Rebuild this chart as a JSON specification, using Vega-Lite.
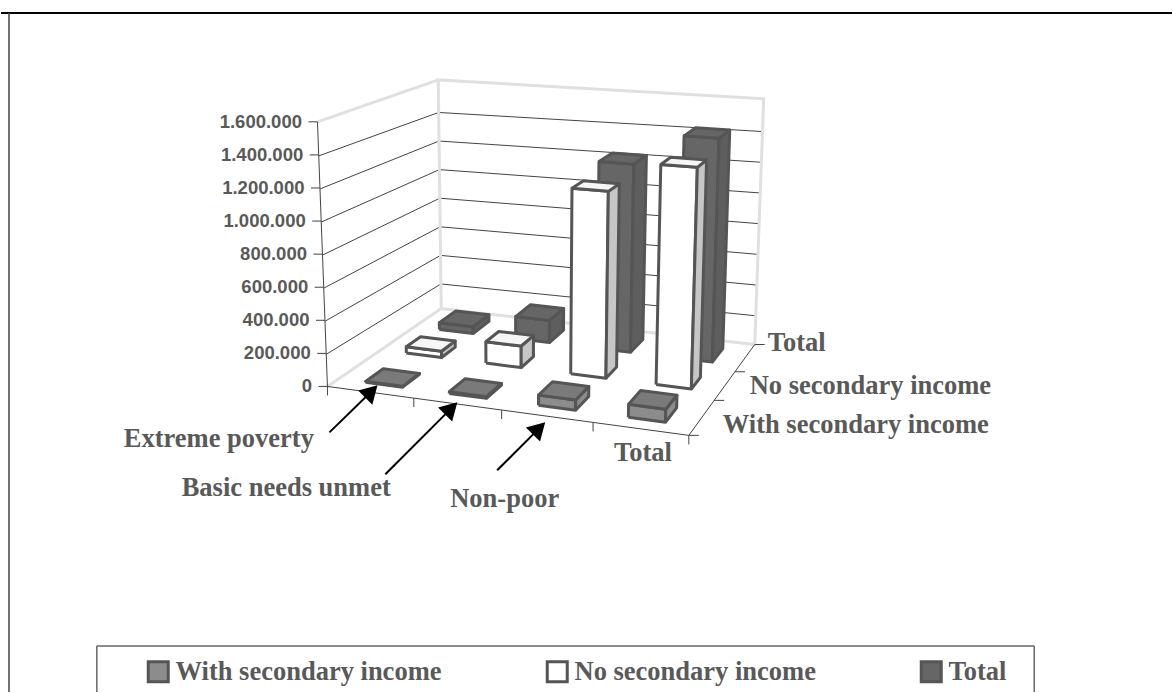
{"$schema":"https://vega.github.io/schema/vega-lite/v6.json","width":1173,"height":693,"padding":0,"autosize":{"type":"fit","contains":"padding"},"background":"white","view":{"stroke":null},
"datasets":{"bars":[
{"category":"Extreme poverty","series":"Total","value":45000},{"category":"Basic needs unmet","series":"Total","value":145000},{"category":"Non-poor","series":"Total","value":1210000},{"category":"Total","series":"Total","value":1415000},
{"category":"Extreme poverty","series":"No secondary income","value":40000},{"category":"Basic needs unmet","series":"No secondary income","value":135000},{"category":"Non-poor","series":"No secondary income","value":1150000},{"category":"Total","series":"No secondary income","value":1340000},
{"category":"Extreme poverty","series":"With secondary income","value":5000},{"category":"Basic needs unmet","series":"With secondary income","value":10000},{"category":"Non-poor","series":"With secondary income","value":60000},{"category":"Total","series":"With secondary income","value":75000}],
"grid":[{"value":0,"label":"0"},{"value":200000,"label":"200.000"},{"value":400000,"label":"400.000"},{"value":600000,"label":"600.000"},{"value":800000,"label":"800.000"},{"value":1000000,"label":"1.000.000"},{"value":1200000,"label":"1.200.000"},{"value":1400000,"label":"1.400.000"},{"value":1600000,"label":"1.600.000"}]},
"layer":[
{"data":{"name":"grid"},"transform":[{"filter":"datum.value>0 && datum.value<1600000"},{"calculate":"[0,0,1]","as":"pa"},{"calculate":"[0,1,1]","as":"pb"},{"calculate":"[0,1,2]","as":"idx"},{"flatten":["pa","pb","idx"]},{"calculate":"datum.value/1600000","as":"t"},
{"calculate":"(1-datum.pb)*((1-datum.pa)*(327-10*datum.t)+datum.pa*(689+8*datum.t))+datum.pb*((1-datum.pa)*(441-3*datum.t)+datum.pa*(755+9*datum.t))","as":"px"},
{"calculate":"(1-datum.pb)*((1-datum.pa)*(388-265*datum.t)+datum.pa*(436-285*datum.t))+datum.pb*((1-datum.pa)*(313-229*datum.t)+datum.pa*(347-246*datum.t))","as":"py"}],
"mark":{"type":"line","stroke":"#444","strokeWidth":1},
"encoding":{"x":{"field":"px","type":"quantitative","scale":{"domain":[0,1173],"nice":false,"zero":false},"axis":null},"y":{"field":"py","type":"quantitative","scale":{"domain":[693,0],"nice":false,"zero":false},"axis":null},"detail":{"field":"value"},"order":{"field":"idx"}}},
{"data":{"values":[{"edge":"wall"}]},"transform":[{"calculate":"[0,0,0,1,1,1,0,0]","as":"pa"},{"calculate":"[0,1,1,1,1,1,1,1]","as":"pb"},{"calculate":"[0,0,1,1,0,0,0,1]","as":"t"},{"calculate":"[0,1,2,3,4,5,6,7]","as":"idx"},{"flatten":["pa","pb","t","idx"]},
{"calculate":"(1-datum.pb)*((1-datum.pa)*(327-10*datum.t)+datum.pa*(689+8*datum.t))+datum.pb*((1-datum.pa)*(441-3*datum.t)+datum.pa*(755+9*datum.t))","as":"px"},
{"calculate":"(1-datum.pb)*((1-datum.pa)*(387-265*datum.t)+datum.pa*(436-285*datum.t))+datum.pb*((1-datum.pa)*(309-229*datum.t)+datum.pa*(345-246*datum.t))","as":"py"}],
"mark":{"type":"line","stroke":"#e0e0e0","strokeWidth":3},
"encoding":{"x":{"field":"px","type":"quantitative"},"y":{"field":"py","type":"quantitative"},"order":{"field":"idx"}}},
{"data":{"values":[{"edge":"ceiling-left"}]},"transform":[{"calculate":"[0,0]","as":"pa"},{"calculate":"[0,1]","as":"pb"},{"calculate":"[1,1]","as":"t"},{"calculate":"[0,1]","as":"idx"},{"flatten":["pa","pb","t","idx"]},
{"calculate":"(1-datum.pb)*((1-datum.pa)*(327-10*datum.t)+datum.pa*(689+8*datum.t))+datum.pb*((1-datum.pa)*(441-3*datum.t)+datum.pa*(755+9*datum.t))","as":"px"},
{"calculate":"(1-datum.pb)*((1-datum.pa)*(387-265*datum.t)+datum.pa*(436-285*datum.t))+datum.pb*((1-datum.pa)*(309-229*datum.t)+datum.pa*(345-246*datum.t))","as":"py"}],
"mark":{"type":"line","stroke":"#e0e0e0","strokeWidth":3},
"encoding":{"x":{"field":"px","type":"quantitative"},"y":{"field":"py","type":"quantitative"},"order":{"field":"idx"}}},
{"data":{"values":[{"edge":"axes"}]},"transform":[{"calculate":"[0,0,1,1]","as":"pa"},{"calculate":"[0,0,0,1]","as":"pb"},{"calculate":"[1,0,0,0]","as":"t"},{"calculate":"[0,1,2,3]","as":"idx"},{"flatten":["pa","pb","t","idx"]},
{"calculate":"(1-datum.pb)*((1-datum.pa)*(327-10*datum.t)+datum.pa*(689+8*datum.t))+datum.pb*((1-datum.pa)*(441-3*datum.t)+datum.pa*(755+9*datum.t))","as":"px"},
{"calculate":"(1-datum.pb)*((1-datum.pa)*(387-265*datum.t)+datum.pa*(436-285*datum.t))+datum.pb*((1-datum.pa)*(309-229*datum.t)+datum.pa*(345-246*datum.t))","as":"py"}],
"mark":{"type":"line","stroke":"#444","strokeWidth":1},
"encoding":{"x":{"field":"px","type":"quantitative"},"y":{"field":"py","type":"quantitative"},"order":{"field":"idx"}}},
{"data":{"name":"grid"},"transform":[{"calculate":"datum.value/1600000","as":"t"},{"calculate":"327-10*datum.t","as":"px"},{"calculate":"387-265*datum.t","as":"py"},{"calculate":"datum.px-9","as":"px2"}],
"mark":{"type":"rule","stroke":"#444","strokeWidth":1},
"encoding":{"x":{"field":"px","type":"quantitative"},"x2":{"field":"px2"},"y":{"field":"py","type":"quantitative"}}},
{"data":{"name":"grid"},"transform":[{"calculate":"datum.value/1600000","as":"t"},{"calculate":"327-10*datum.t-15.5","as":"px"},{"calculate":"387-265*datum.t","as":"py"}],
"mark":{"type":"text","align":"right","baseline":"middle","font":"Liberation Sans","fontWeight":"bold","fontSize":18.5,"fill":"#595959"},
"encoding":{"x":{"field":"px","type":"quantitative"},"y":{"field":"py","type":"quantitative"},"text":{"field":"label"}}},
{"data":{"values":[{"tick":0},{"tick":0.239},{"tick":0.482},{"tick":0.735},{"tick":1}]},"transform":[{"calculate":"327+362*datum.tick","as":"px"},{"calculate":"387+49*datum.tick","as":"py"},{"calculate":"datum.py+9","as":"py2"}],
"mark":{"type":"rule","stroke":"#444","strokeWidth":1},
"encoding":{"x":{"field":"px","type":"quantitative"},"y":{"field":"py","type":"quantitative"},"y2":{"field":"py2"}}},
{"data":{"values":[{"tick":0},{"tick":0.385},{"tick":0.70},{"tick":1}]},"transform":[{"calculate":"689+66*datum.tick","as":"px"},{"calculate":"436-91*datum.tick","as":"py"},{"calculate":"datum.px+10","as":"px2"}],
"mark":{"type":"rule","stroke":"#444","strokeWidth":1},
"encoding":{"x":{"field":"px","type":"quantitative"},"x2":{"field":"px2"},"y":{"field":"py","type":"quantitative"}}},
{"data":{"name":"bars"},"transform":[
{"calculate":"{'Extreme poverty':0.075,'Basic needs unmet':0.31,'Non-poor':0.56,'Total':0.812}[datum.category]","as":"a0"},{"calculate":"datum.a0+0.104","as":"a1"},
{"calculate":"{'With secondary income':0.10,'No secondary income':0.47,'Total':0.77}[datum.series]","as":"b0"},{"calculate":"{'With secondary income':0.26,'No secondary income':0.60,'Total':0.92}[datum.series]","as":"b1"},
{"calculate":"['front','side','top']","as":"face"},{"flatten":["face"]},
{"calculate":"datum.face=='side'?[datum.a1,datum.a1,datum.a1,datum.a1,datum.a1]:[datum.a0,datum.a1,datum.a1,datum.a0,datum.a0]","as":"pa"},
{"calculate":"datum.face=='front'?[datum.b0,datum.b0,datum.b0,datum.b0,datum.b0]:datum.face=='side'?[datum.b0,datum.b1,datum.b1,datum.b0,datum.b0]:[datum.b0,datum.b0,datum.b1,datum.b1,datum.b0]","as":"pb"},
{"calculate":"datum.face=='top'?[datum.value,datum.value,datum.value,datum.value,datum.value]:[0,0,datum.value,datum.value,0]","as":"ph"},
{"calculate":"[0,1,2,3,4]","as":"idx"},{"flatten":["pa","pb","ph","idx"]},{"calculate":"datum.ph/1600000","as":"t"},
{"calculate":"(1-datum.pb)*((1-datum.pa)*(327-10*datum.t)+datum.pa*(689+8*datum.t))+datum.pb*((1-datum.pa)*(441-3*datum.t)+datum.pa*(755+9*datum.t))","as":"px"},
{"calculate":"(1-datum.pb)*((1-datum.pa)*(387-265*datum.t)+datum.pa*(436-285*datum.t))+datum.pb*((1-datum.pa)*(309-229*datum.t)+datum.pa*(345-246*datum.t))","as":"py"},
{"calculate":"datum.series+'|'+datum.face","as":"key"},{"calculate":"datum.category+'|'+datum.key","as":"poly"}],
"mark":{"type":"line","stroke":"#555","strokeWidth":3,"strokeJoin":"round"},
"encoding":{"x":{"field":"px","type":"quantitative"},"y":{"field":"py","type":"quantitative"},"detail":{"field":"poly"},"order":{"field":"idx"},
"fill":{"field":"key","type":"nominal","scale":{"domain":["With secondary income|front","With secondary income|top","With secondary income|side","No secondary income|front","No secondary income|top","No secondary income|side","Total|front","Total|top","Total|side"],"range":["#8c8c8c","#7a7a7a","#8c8c8c","#ffffff","#f6f6f6","#c6c6c6","#666666","#666666","#5e5e5e"]},
"legend":{"orient":"none","legendX":144,"legendY":658,"columns":3,"columnPadding":99,"title":null,"values":["With secondary income|front","No secondary income|front","Total|front"],"labelExpr":"split(datum.label,'|')[0]","symbolType":"square","symbolSize":400,"symbolStrokeColor":"#555","symbolStrokeWidth":3,"labelFont":"Liberation Serif","labelFontWeight":"bold","labelFontSize":26.5,"labelColor":"#595959","labelLimit":400,"labelOffset":4}}}},
{"data":{"values":[{"label":"Total"}]},"mark":{"type":"text","align":"left","baseline":"middle","font":"Liberation Serif","fontWeight":"bold","fontSize":26.5,"fill":"#595959"},"encoding":{"x":{"datum":768,"type":"quantitative"},"y":{"datum":343,"type":"quantitative"},"text":{"field":"label"}}},
{"data":{"values":[{"label":"No secondary income"}]},"mark":{"type":"text","align":"left","baseline":"middle","font":"Liberation Serif","fontWeight":"bold","fontSize":26.5,"fill":"#595959"},"encoding":{"x":{"datum":750,"type":"quantitative"},"y":{"datum":387,"type":"quantitative"},"text":{"field":"label"}}},
{"data":{"values":[{"label":"With secondary income"}]},"mark":{"type":"text","align":"left","baseline":"middle","font":"Liberation Serif","fontWeight":"bold","fontSize":26.5,"fill":"#595959"},"encoding":{"x":{"datum":723,"type":"quantitative"},"y":{"datum":426,"type":"quantitative"},"text":{"field":"label"}}},
{"data":{"values":[{"label":"Extreme poverty"}]},"mark":{"type":"text","align":"left","baseline":"middle","font":"Liberation Serif","fontWeight":"bold","fontSize":26.5,"fill":"#595959"},"encoding":{"x":{"datum":123,"type":"quantitative"},"y":{"datum":440,"type":"quantitative"},"text":{"field":"label"}}},
{"data":{"values":[{"label":"Basic needs unmet"}]},"mark":{"type":"text","align":"left","baseline":"middle","font":"Liberation Serif","fontWeight":"bold","fontSize":26.5,"fill":"#595959"},"encoding":{"x":{"datum":181,"type":"quantitative"},"y":{"datum":489,"type":"quantitative"},"text":{"field":"label"}}},
{"data":{"values":[{"label":"Non-poor"}]},"mark":{"type":"text","align":"left","baseline":"middle","font":"Liberation Serif","fontWeight":"bold","fontSize":26.5,"fill":"#595959"},"encoding":{"x":{"datum":450,"type":"quantitative"},"y":{"datum":500,"type":"quantitative"},"text":{"field":"label"}}},
{"data":{"values":[{"label":"Total"}]},"mark":{"type":"text","align":"left","baseline":"middle","font":"Liberation Serif","fontWeight":"bold","fontSize":26.5,"fill":"#595959"},"encoding":{"x":{"datum":614,"type":"quantitative"},"y":{"datum":454,"type":"quantitative"},"text":{"field":"label"}}},
{"data":{"values":[{"arrow":1}]},"mark":{"type":"rule","stroke":"black","strokeWidth":2},"encoding":{"x":{"datum":329,"type":"quantitative"},"y":{"datum":433,"type":"quantitative"},"x2":{"datum":371},"y2":{"datum":392}}},
{"data":{"values":[{"arrow":2}]},"mark":{"type":"rule","stroke":"black","strokeWidth":2},"encoding":{"x":{"datum":385,"type":"quantitative"},"y":{"datum":475,"type":"quantitative"},"x2":{"datum":451},"y2":{"datum":409}}},
{"data":{"values":[{"arrow":3}]},"mark":{"type":"rule","stroke":"black","strokeWidth":2},"encoding":{"x":{"datum":497,"type":"quantitative"},"y":{"datum":471,"type":"quantitative"},"x2":{"datum":539},"y2":{"datum":429}}},
{"data":{"values":[{"arrow":1}]},"mark":{"type":"point","shape":"triangle-up","angle":45,"filled":true,"size":400,"color":"black","opacity":1},"encoding":{"x":{"datum":371,"type":"quantitative"},"y":{"datum":392,"type":"quantitative"}}},
{"data":{"values":[{"arrow":2}]},"mark":{"type":"point","shape":"triangle-up","angle":45,"filled":true,"size":400,"color":"black","opacity":1},"encoding":{"x":{"datum":451,"type":"quantitative"},"y":{"datum":409,"type":"quantitative"}}},
{"data":{"values":[{"arrow":3}]},"mark":{"type":"point","shape":"triangle-up","angle":45,"filled":true,"size":400,"color":"black","opacity":1},"encoding":{"x":{"datum":539,"type":"quantitative"},"y":{"datum":429,"type":"quantitative"}}},
{"data":{"values":[{"frame":"top"}]},"mark":{"type":"rule","stroke":"black","strokeWidth":2},"encoding":{"x":{"datum":0,"type":"quantitative"},"x2":{"datum":1173},"y":{"datum":13,"type":"quantitative"}}},
{"data":{"values":[{"frame":"left"}]},"mark":{"type":"rule","stroke":"#444","strokeWidth":1.5},"encoding":{"x":{"datum":8,"type":"quantitative"},"y":{"datum":13,"type":"quantitative"},"y2":{"datum":693}}},
{"data":{"values":[{"frame":"legend-top"}]},"mark":{"type":"rule","stroke":"#666","strokeWidth":1.5},"encoding":{"x":{"datum":96,"type":"quantitative"},"x2":{"datum":1035},"y":{"datum":647,"type":"quantitative"}}},
{"data":{"values":[{"frame":"legend-left"}]},"mark":{"type":"rule","stroke":"#666","strokeWidth":1.5},"encoding":{"x":{"datum":96,"type":"quantitative"},"y":{"datum":647,"type":"quantitative"},"y2":{"datum":693}}},
{"data":{"values":[{"frame":"legend-right"}]},"mark":{"type":"rule","stroke":"#666","strokeWidth":1.5},"encoding":{"x":{"datum":1035,"type":"quantitative"},"y":{"datum":647,"type":"quantitative"},"y2":{"datum":693}}}
]}
